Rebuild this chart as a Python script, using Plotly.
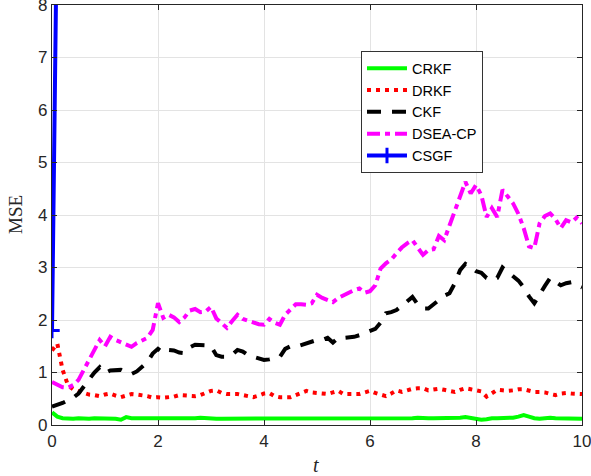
import plotly.graph_objects as go

t = [round(i * 0.1, 1) for i in range(101)]

crkf = [0.24, 0.16, 0.13, 0.12, 0.12, 0.13, 0.12, 0.12, 0.13, 0.13,
        0.13, 0.12, 0.12, 0.10, 0.15, 0.13, 0.13, 0.13, 0.12, 0.12,
        0.12, 0.12, 0.13, 0.12, 0.13, 0.13, 0.12, 0.13, 0.14, 0.13,
        0.13, 0.12, 0.12, 0.12, 0.13, 0.12, 0.12, 0.12, 0.13, 0.13,
        0.13, 0.12, 0.12, 0.13, 0.12, 0.12, 0.12, 0.13, 0.12, 0.12,
        0.13, 0.12, 0.12, 0.12, 0.13, 0.13, 0.12, 0.12, 0.12, 0.13,
        0.13, 0.13, 0.12, 0.12, 0.13, 0.13, 0.12, 0.13, 0.13, 0.14,
        0.13, 0.13, 0.13, 0.13, 0.14, 0.13, 0.13, 0.14, 0.15, 0.13,
        0.11, 0.10, 0.11, 0.13, 0.13, 0.13, 0.13, 0.14, 0.16, 0.19,
        0.16, 0.13, 0.12, 0.13, 0.14, 0.13, 0.13, 0.13, 0.12, 0.12, 0.12]

drkf = [1.42, 1.55, 1.05, 0.76, 0.68, 0.64, 0.60, 0.58, 0.57, 0.55,
        0.58, 0.60, 0.56, 0.53, 0.56, 0.59, 0.58, 0.57, 0.55, 0.52,
        0.53, 0.52, 0.53, 0.54, 0.57, 0.56, 0.55, 0.55, 0.57, 0.60,
        0.65, 0.66, 0.61, 0.59, 0.59, 0.59, 0.57, 0.54, 0.53, 0.56,
        0.60, 0.61, 0.55, 0.53, 0.53, 0.53, 0.57, 0.62, 0.65, 0.62,
        0.61, 0.60, 0.59, 0.62, 0.65, 0.59, 0.59, 0.59, 0.59, 0.62,
        0.65, 0.61, 0.57, 0.55, 0.60, 0.66, 0.63, 0.66, 0.69, 0.70,
        0.70, 0.66, 0.67, 0.69, 0.67, 0.64, 0.63, 0.67, 0.70, 0.68,
        0.66, 0.64, 0.54, 0.60, 0.67, 0.66, 0.65, 0.66, 0.68, 0.68,
        0.65, 0.63, 0.63, 0.62, 0.59, 0.57, 0.60, 0.61, 0.60, 0.59, 0.59]

ckf = [0.35, 0.38, 0.42, 0.47, 0.52, 0.60, 0.74, 0.88, 1.00, 1.10,
       0.99, 1.04, 1.05, 1.05, 1.00, 0.97, 1.02, 1.12, 1.20, 1.36,
       1.45, 1.37, 1.43, 1.42, 1.38, 1.37, 1.48, 1.53, 1.53, 1.52,
       1.50, 1.33, 1.30, 1.30, 1.34, 1.43, 1.40, 1.33, 1.30, 1.27,
       1.24, 1.25, 1.27, 1.30, 1.45, 1.50, 1.49, 1.52, 1.56, 1.60,
       1.62, 1.62, 1.66, 1.57, 1.66, 1.66, 1.67, 1.68, 1.71, 1.75,
       1.79, 1.83, 1.95, 2.13, 2.15, 2.19, 2.27, 2.36, 2.44, 2.30,
       2.22, 2.22, 2.30, 2.40, 2.46, 2.51, 2.70, 2.95, 3.07, 3.00,
       2.93, 2.90, 2.80, 2.76, 2.80, 3.00, 2.92, 2.85, 2.75, 2.62,
       2.45, 2.32, 2.50, 2.65, 2.80, 2.72, 2.66, 2.70, 2.72, 2.66, 2.62]

dsea_cp = [0.82, 0.76, 0.72, 0.71, 0.76, 0.86, 1.05, 1.25, 1.45, 1.62,
           1.50, 1.68, 1.62, 1.58, 1.52, 1.49, 1.56, 1.62, 1.66, 1.81,
           2.32, 2.04, 2.10, 2.05, 1.96, 2.05, 2.18, 2.21, 2.15, 2.16,
           2.25, 2.03, 1.95, 1.85, 1.98, 2.10, 2.02, 1.98, 1.94, 1.92,
           1.91, 2.02, 1.95, 1.91, 2.10, 2.20, 2.30, 2.30, 2.29, 2.32,
           2.48, 2.42, 2.38, 2.34, 2.42, 2.48, 2.52, 2.57, 2.60, 2.52,
           2.55, 2.66, 2.98, 3.08, 3.15, 3.27, 3.38, 3.46, 3.52, 3.38,
           3.24, 3.33, 3.35, 3.60, 3.52, 3.80, 4.06, 4.35, 4.63, 4.41,
           4.57, 4.38, 3.96, 4.13, 3.96, 4.48, 4.35, 4.22, 4.02, 3.75,
           3.40, 3.37, 3.84, 3.98, 4.03, 3.92, 3.75, 3.90, 3.86, 3.95, 3.84]

csgf_t = [0.0, 0.1, 0.2, 0.3]
csgf = [1.8, 10.2, 11.8, 12.4]

series_names = ["CRKF", "DRKF", "CKF", "DSEA-CP", "CSGF"]

fig = go.Figure()
fig.add_trace(go.Scatter(x=t, y=crkf, mode="lines", name=series_names[0],
                         line=dict(color="#00ff00", width=4)))
fig.add_trace(go.Scatter(x=t, y=drkf, mode="lines", name=series_names[1],
                         line=dict(color="#ff0000", width=4, dash="4px,5px")))
fig.add_trace(go.Scatter(x=t, y=ckf, mode="lines", name=series_names[2],
                         line=dict(color="#000000", width=4, dash="14px,11px")))
fig.add_trace(go.Scatter(x=t, y=dsea_cp, mode="lines", name=series_names[3],
                         line=dict(color="#ff00ff", width=4, dash="13px,5px,5px,5px")))
fig.add_trace(go.Scatter(x=csgf_t, y=csgf, mode="lines+markers", name=series_names[4],
                         line=dict(color="#0000ff", width=4),
                         marker=dict(symbol="cross-thin", size=11,
                                     line=dict(color="#0000ff", width=3))))

axis_common = dict(
    showgrid=True, gridcolor="#e3e3e3", gridwidth=1,
    showline=True, linecolor="#262626", linewidth=1.2, mirror="ticks",
    ticks="inside", ticklen=5, tickcolor="#262626",
    tickfont=dict(family="Liberation Sans, Arial", size=17, color="#262626"),
    zeroline=False, automargin=False, ticklabeloverflow="allow",
)

fig.update_layout(
    width=591, height=476,
    margin=dict(l=52, r=9, t=5, b=51),
    paper_bgcolor="white", plot_bgcolor="white",
    xaxis=dict(range=[0, 10], dtick=2, tick0=0, **axis_common),
    yaxis=dict(range=[0, 8], dtick=1, tick0=0, **axis_common),
    legend=dict(x=0.583, y=0.890, xanchor="left", yanchor="top",
                bgcolor="white", bordercolor="#333333", borderwidth=1,
                font=dict(family="Liberation Sans, Arial", size=14.5, color="#000000"),
                tracegroupgap=0, itemwidth=40),
    showlegend=True,
    annotations=[
        dict(text="MSE", xref="paper", yref="paper", x=-0.0698, y=0.50,
             xanchor="center", yanchor="middle", textangle=-90, showarrow=False,
             font=dict(family="Liberation Serif, Times New Roman", size=19, color="#262626")),
        dict(text="<i>t</i>", xref="paper", yref="paper", x=0.498, y=-0.095,
             xanchor="center", yanchor="middle", showarrow=False,
             font=dict(family="Liberation Serif, Times New Roman", size=20, color="#262626")),
    ],
)

fig.write_html("out.html", config={"displayModeBar": False},
               post_script="document.body.style.margin='0';")
